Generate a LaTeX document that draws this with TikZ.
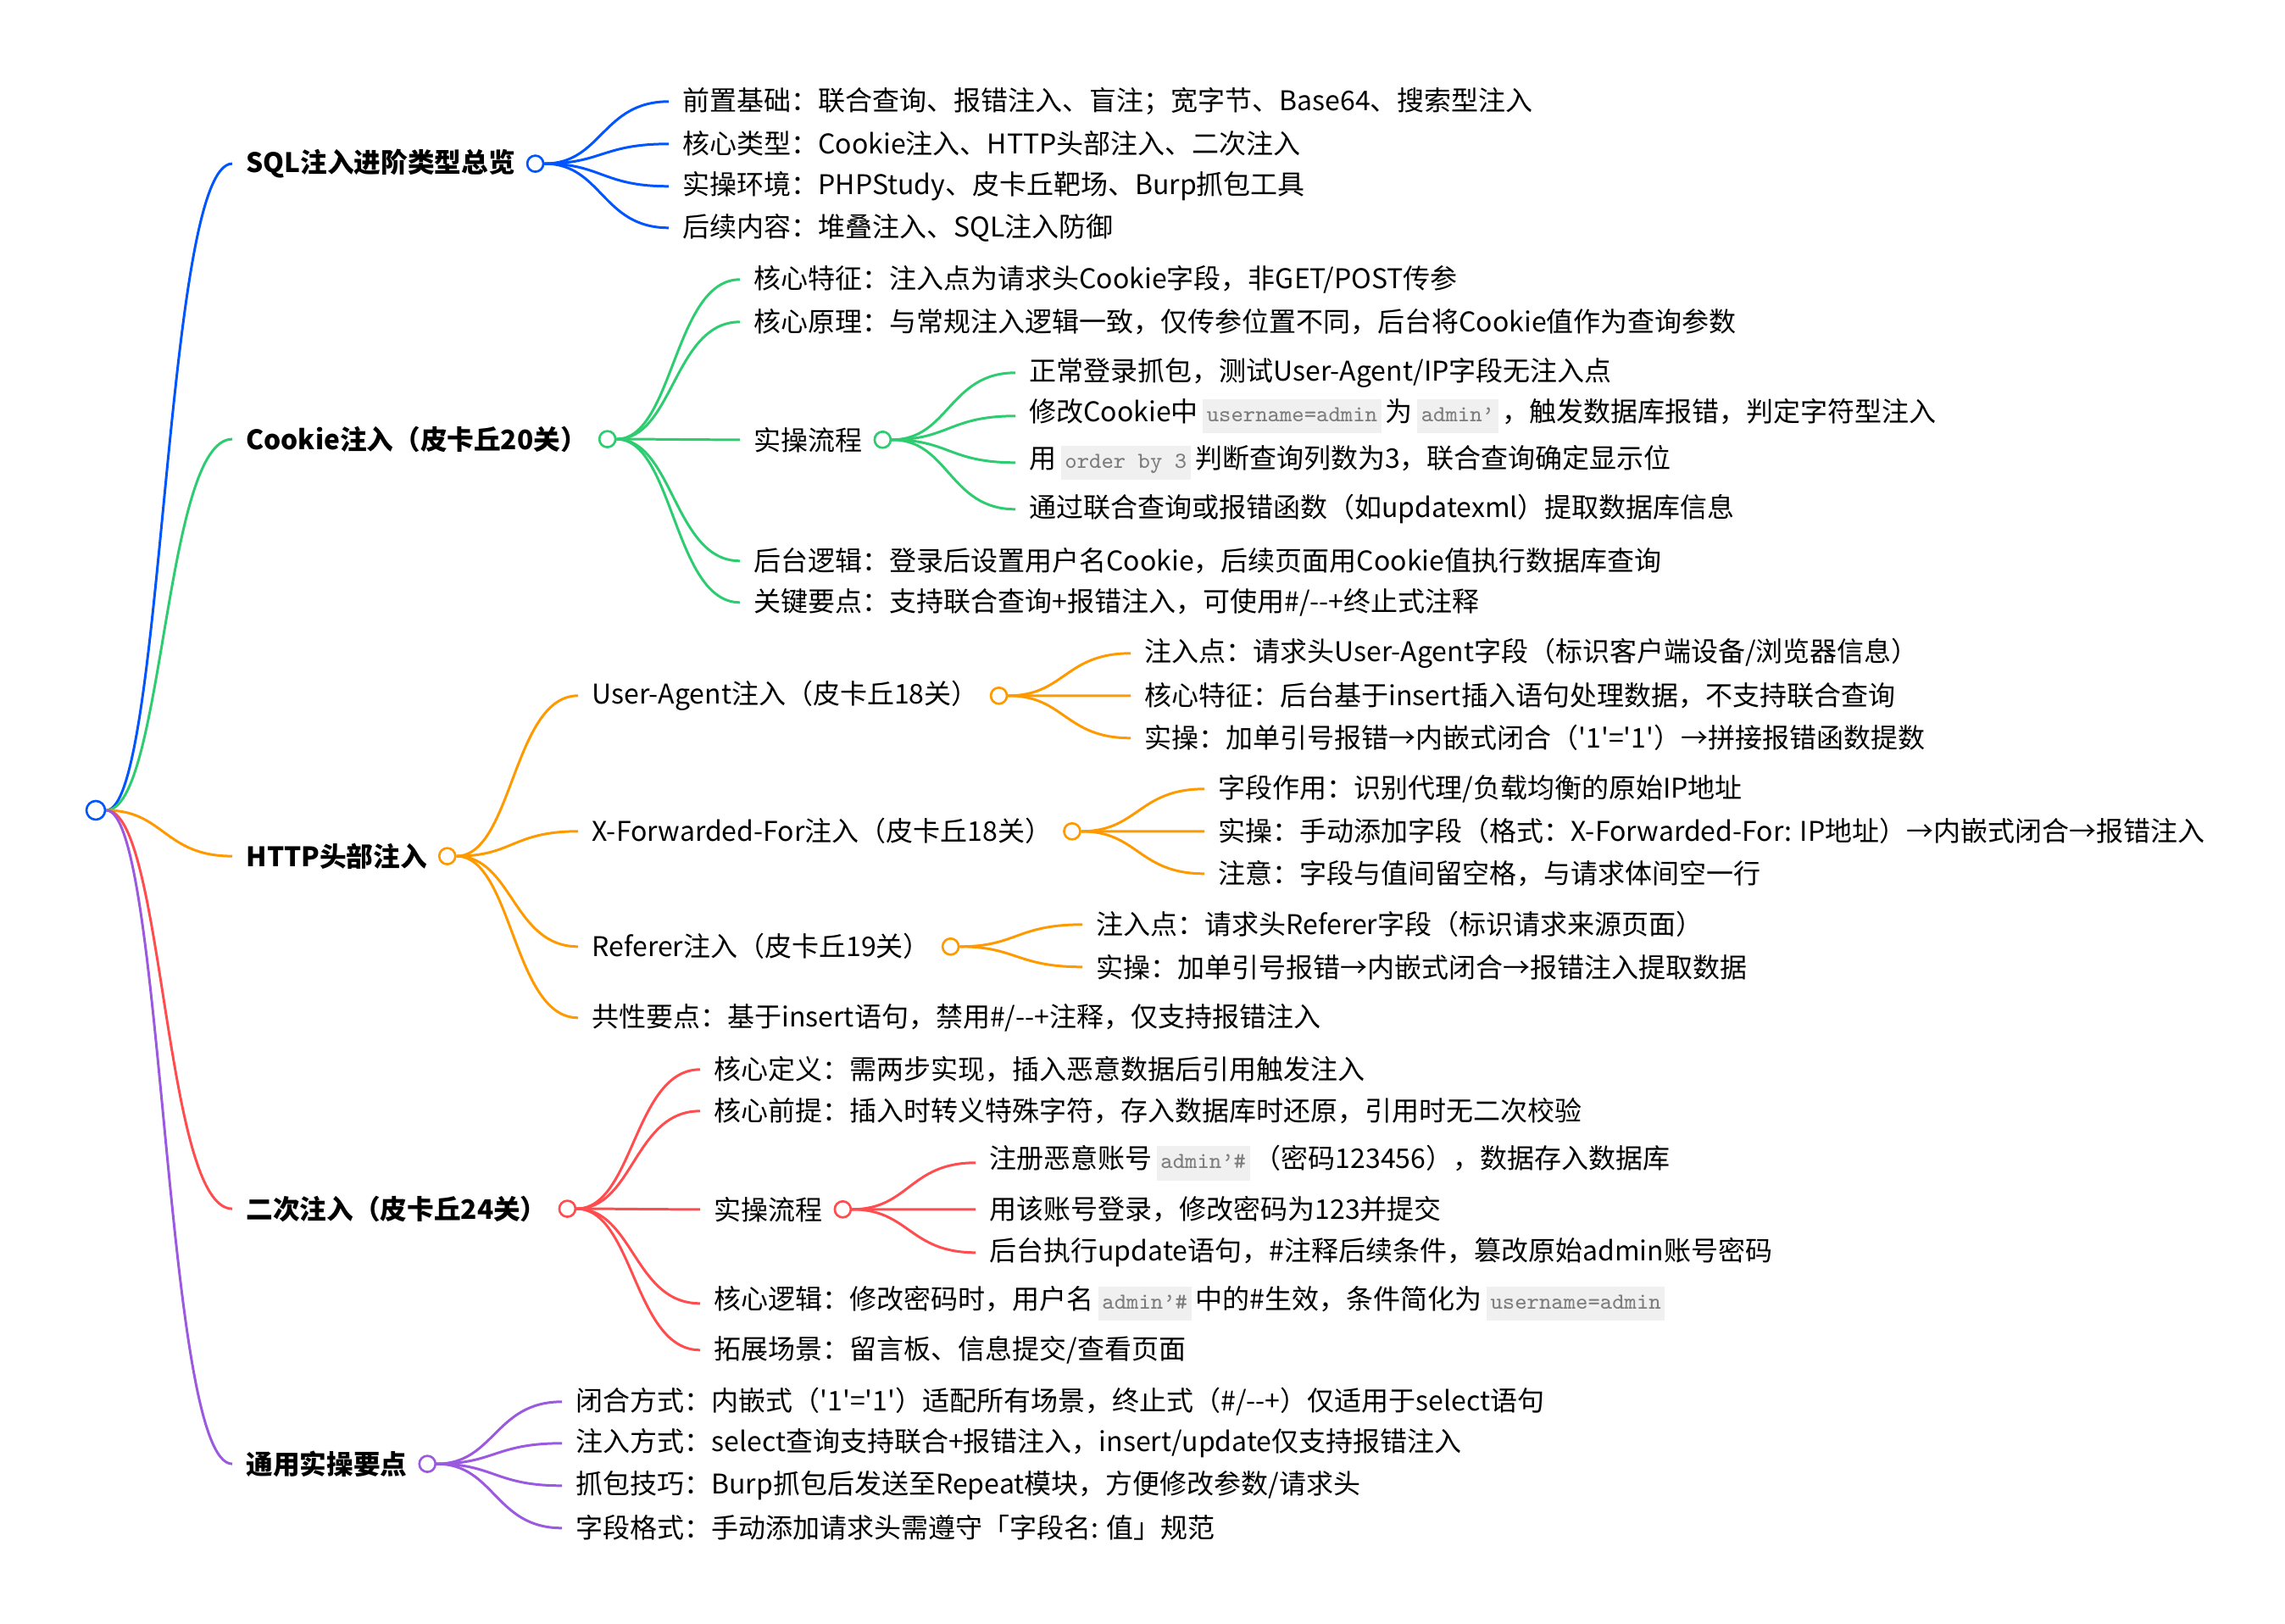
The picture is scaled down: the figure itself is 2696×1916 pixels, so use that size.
\documentclass[tikz,border=0pt]{standalone}
\usepackage{fontspec}
\newfontfamily\cjk{Noto Sans CJK SC}
\usetikzlibrary{positioning,calc}
\definecolor{codebg}{RGB}{240,240,240}
\definecolor{codefg}{RGB}{125,125,125}
\newcommand{\code}[1]{\hspace{1.5pt}{\setlength{\fboxsep}{1.3pt}\colorbox{codebg}{\ttfamily\fontsize{7.7}{9}\selectfont\color{codefg}\strut #1}}\hspace{1.5pt}}
\begin{document}
\begin{tikzpicture}[x=0.01cm, y=-0.01cm,
    top/.style={font={\cjk\bfseries\fontsize{9}{11}\selectfont}, anchor=west, inner xsep=4.5pt, inner ysep=1pt, yshift=-0.6pt},
    leaf/.style={font={\cjk\fontsize{9.1}{11}\selectfont}, anchor=west, inner xsep=4.5pt, inner ysep=1pt, yshift=-0.8pt},
    hub/.style={circle, draw=#1, fill=white, line width=0.75pt, minimum size=0.19cm, inner sep=0pt},
    branch/.style={line width=0.85pt, to path={.. controls ($(\tikztostart)!0.5!(\tikztostart -| \tikztotarget)$) and ($(\tikztotarget)!0.5!(\tikztotarget -| \tikztostart)$) .. (\tikztotarget)}}]
\definecolor{brblue}{RGB}{0,85,255}
\definecolor{brgreen}{RGB}{46,204,113}
\definecolor{brorange}{RGB}{255,153,0}
\definecolor{brred}{RGB}{255,77,79}
\definecolor{brpurple}{RGB}{155,89,224}
\useasboundingbox (0,0) rectangle (2696,1916);
\node[hub=brblue, minimum size=0.22cm] (root) at (113,956) {};
% first level
\node[top] (sql) at (274,191) {SQL注入进阶类型总览};
\node[hub=brblue, right=-1pt of sql] (sqld) {};
\node[top] (ck) at (274,516) {Cookie注入（皮卡丘20关）};
\node[hub=brgreen, right=-1pt of ck] (ckd) {};
\node[top] (http) at (274,1008) {HTTP头部注入};
\node[hub=brorange, right=-1pt of http] (httpd) {};
\node[top] (sec) at (274,1424) {二次注入（皮卡丘24关）};
\node[hub=brred, right=-1pt of sec] (secd) {};
\node[top] (gen) at (274,1725) {通用实操要点};
\node[hub=brpurple, right=-1pt of gen] (gend) {};
\draw[branch, brblue] (root) to (sql.west);
\draw[branch, brgreen] (root) to (ck.west);
\draw[branch, brorange] (root) to (http.west);
\draw[branch, brred] (root) to (sec.west);
\draw[branch, brpurple] (root) to (gen.west);
% SQL overview
\node[leaf] (sql1) at (789,117) {前置基础：联合查询、报错注入、盲注；宽字节、Base64、搜索型注入};
\node[leaf] (sql2) at (789,167) {核心类型：Cookie注入、HTTP头部注入、二次注入};
\node[leaf] (sql3) at (789,217) {实操环境：PHPStudy、皮卡丘靶场、Burp抓包工具};
\node[leaf] (sql4) at (789,266) {后续内容：堆叠注入、SQL注入防御};
\draw[branch, brblue] (sqld) to (sql1.west);
\draw[branch, brblue] (sqld) to (sql2.west);
\draw[branch, brblue] (sqld) to (sql3.west);
\draw[branch, brblue] (sqld) to (sql4.west);
% Cookie
\node[leaf] (ck1) at (873,327) {核心特征：注入点为请求头Cookie字段，非GET/POST传参};
\node[leaf] (ck2) at (873,377) {核心原理：与常规注入逻辑一致，仅传参位置不同，后台将Cookie值作为查询参数};
\node[leaf] (ckp) at (873,516) {实操流程};
\node[hub=brgreen, right=-1pt of ckp] (ckpd) {};
\node[leaf] (ck3) at (873,659) {后台逻辑：登录后设置用户名Cookie，后续页面用Cookie值执行数据库查询};
\node[leaf] (ck4) at (873,708) {关键要点：支持联合查询+报错注入，可使用\#/--+终止式注释};
\draw[branch, brgreen] (ckd) to (ck1.west);
\draw[branch, brgreen] (ckd) to (ck2.west);
\draw[branch, brgreen] (ckd) to (ckp.west);
\draw[branch, brgreen] (ckd) to (ck3.west);
\draw[branch, brgreen] (ckd) to (ck4.west);
\node[leaf] (ckp1) at (1198,437) {正常登录抓包，测试User-Agent/IP字段无注入点};
\node[leaf] (ckp2) at (1198,488) {修改Cookie中\code{username=admin}为\code{admin\textquoteright}，触发数据库报错，判定字符型注入};
\node[leaf] (ckp3) at (1198,543) {用\code{order by 3}判断查询列数为3，联合查询确定显示位};
\node[leaf] (ckp4) at (1198,598) {通过联合查询或报错函数（如updatexml）提取数据库信息};
\draw[branch, brgreen] (ckpd) to (ckp1.west);
\draw[branch, brgreen] (ckpd) to (ckp2.west);
\draw[branch, brgreen] (ckpd) to (ckp3.west);
\draw[branch, brgreen] (ckpd) to (ckp4.west);
% HTTP headers
\node[leaf] (ua) at (682,818) {User-Agent注入（皮卡丘18关）};
\node[hub=brorange, right=-1pt of ua] (uad) {};
\node[leaf] (xff) at (682,978) {X-Forwarded-For注入（皮卡丘18关）};
\node[hub=brorange, right=-1pt of xff] (xffd) {};
\node[leaf] (ref) at (682,1114) {Referer注入（皮卡丘19关）};
\node[hub=brorange, right=-1pt of ref] (refd) {};
\node[leaf] (com) at (682,1198) {共性要点：基于insert语句，禁用\#/--+注释，仅支持报错注入};
\draw[branch, brorange] (httpd) to (ua.west);
\draw[branch, brorange] (httpd) to (xff.west);
\draw[branch, brorange] (httpd) to (ref.west);
\draw[branch, brorange] (httpd) to (com.west);
\node[leaf] (ua1) at (1334,768) {注入点：请求头User-Agent字段（标识客户端设备/浏览器信息）};
\node[leaf] (ua2) at (1334,818) {核心特征：后台基于insert插入语句处理数据，不支持联合查询};
\node[leaf] (ua3) at (1334,868) {实操：加单引号报错→内嵌式闭合（'1'='1'）→拼接报错函数提数};
\draw[branch, brorange] (uad) to (ua1.west);
\draw[branch, brorange] (uad) to (ua2.west);
\draw[branch, brorange] (uad) to (ua3.west);
\node[leaf] (xff1) at (1421,928) {字段作用：识别代理/负载均衡的原始IP地址};
\node[leaf] (xff2) at (1421,978) {实操：手动添加字段（格式：X-Forwarded-For: IP地址）→内嵌式闭合→报错注入};
\node[leaf] (xff3) at (1421,1028) {注意：字段与值间留空格，与请求体间空一行};
\draw[branch, brorange] (xffd) to (xff1.west);
\draw[branch, brorange] (xffd) to (xff2.west);
\draw[branch, brorange] (xffd) to (xff3.west);
\node[leaf] (ref1) at (1277,1088) {注入点：请求头Referer字段（标识请求来源页面）};
\node[leaf] (ref2) at (1277,1138) {实操：加单引号报错→内嵌式闭合→报错注入提取数据};
\draw[branch, brorange] (refd) to (ref1.west);
\draw[branch, brorange] (refd) to (ref2.west);
% second-order injection
\node[leaf] (sec1) at (826,1259) {核心定义：需两步实现，插入恶意数据后引用触发注入};
\node[leaf] (sec2) at (826,1308) {核心前提：插入时转义特殊字符，存入数据库时还原，引用时无二次校验};
\node[leaf] (secp) at (826,1424) {实操流程};
\node[hub=brred, right=-1pt of secp] (secpd) {};
\node[leaf] (sec3) at (826,1535) {核心逻辑：修改密码时，用户名\code{admin\textquoteright\#}中的\#生效，条件简化为\code{username=admin}};
\node[leaf] (sec4) at (826,1590) {拓展场景：留言板、信息提交/查看页面};
\draw[branch, brred] (secd) to (sec1.west);
\draw[branch, brred] (secd) to (sec2.west);
\draw[branch, brred] (secd) to (secp.west);
\draw[branch, brred] (secd) to (sec3.west);
\draw[branch, brred] (secd) to (sec4.west);
\node[leaf] (secp1) at (1151,1369) {注册恶意账号\code{admin\textquoteright\#}（密码123456），数据存入数据库};
\node[leaf] (secp2) at (1151,1424) {用该账号登录，修改密码为123并提交};
\node[leaf] (secp3) at (1151,1475) {后台执行update语句，\#注释后续条件，篡改原始admin账号密码};
\draw[branch, brred] (secpd) to (secp1.west);
\draw[branch, brred] (secpd) to (secp2.west);
\draw[branch, brred] (secpd) to (secp3.west);
% general tips
\node[leaf] (gen1) at (663,1651) {闭合方式：内嵌式（'1'='1'）适配所有场景，终止式（\#/--+）仅适用于select语句};
\node[leaf] (gen2) at (663,1700) {注入方式：select查询支持联合+报错注入，insert/update仅支持报错注入};
\node[leaf] (gen3) at (663,1750) {抓包技巧：Burp抓包后发送至Repeat模块，方便修改参数/请求头};
\node[leaf] (gen4) at (663,1800) {字段格式：手动添加请求头需遵守「字段名: 值」规范};
\draw[branch, brpurple] (gend) to (gen1.west);
\draw[branch, brpurple] (gend) to (gen2.west);
\draw[branch, brpurple] (gend) to (gen3.west);
\draw[branch, brpurple] (gend) to (gen4.west);
\end{tikzpicture}
\end{document}
